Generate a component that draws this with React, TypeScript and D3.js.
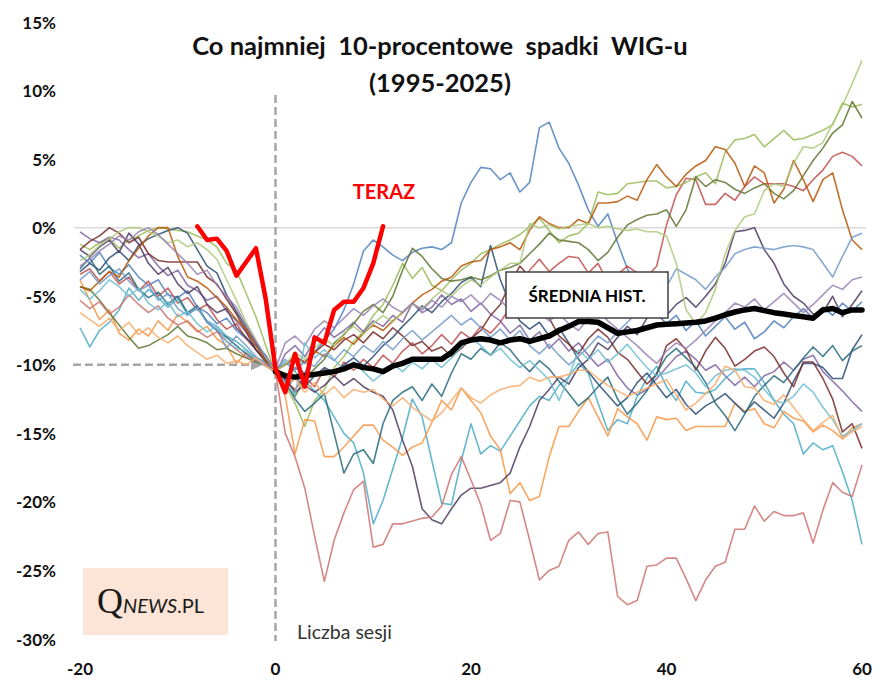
import * as d3 from "d3";
import { useEffect, useRef } from "react";

// sessions relative to the day the 10% drop was reached
const sessions = d3.range(-20, 61);
const xTicks = [-20, 0, 20, 40, 60];
const yTicks = [15, 10, 5, 0, -5, -10, -15, -20, -25, -30];

// historical episodes (% vs. previous peak), x = -20 .. 60
const blueSpike = [
  -2.0, -2.6, -1.8, -2.9, -3.4, -2.7, -3.6, -4.2, -3.8, -4.9, -5.1, -4.6, -5.8, -6.2, -7.0, -6.6, -7.5, -8.1, -8.6, -9.3,
  -10.5, -11.0, -10.2, -10.6, -9.1, -8.2, -7.4, -6.0, -4.1, -1.7, -0.9,
  -1.4, -2.0, -2.4, -1.8, -1.5, -1.4, -1.6, -1.1, 1.8, 3.3,
  4.4, 4.3, 3.5, 4.0, 2.6, 3.3, 7.3, 7.7, 5.8, 4.7,
  3.1, 1.3, 0.1, 1.0, -1.1, -3.0, -4.4, -5.6, -6.3, -7.0,
  -6.4, -7.5, -6.8, -7.9, -7.2, -6.5, -7.4, -6.9, -8.1, -7.6,
  -6.8, -7.3, -6.5, -5.9, -6.6, -5.8, -6.4, -5.5, -6.1, -5.4,
];
const redUp = [
  -3.4, -3.0, -3.9, -3.2, -4.1, -3.6, -4.6, -3.9, -5.0, -4.4, -5.5, -5.1, -6.0, -5.6, -6.7, -7.4, -7.0, -8.1, -8.9, -9.6,
  -10.4, -11.2, -11.8, -10.9, -11.6, -10.3, -10.9, -9.8, -10.4, -9.6, -10.2,
  -9.3, -9.9, -9.0, -8.4, -9.2, -8.6, -7.8, -8.5, -7.6, -8.1,
  -7.2, -7.7, -6.9, -5.8, -4.5, -3.1, -2.3, -3.2, -2.6, -2.1,
  -2.2, -3.3, -2.6, -4.0, -3.4, -2.8, -3.3, -3.6, -2.8, 0.2,
  2.4, 3.6, 3.5, 1.7, 1.7, 2.5, 2.0, 3.0, 3.7, 3.2,
  3.2, 3.2, 3.0, 2.7, 3.5, 4.2, 5.2, 5.5, 5.2, 4.5,
];
const greenMid = [
  -1.2, -1.6, -1.1, -0.8, -1.5, -0.9, -0.6, -0.2, 0.0, -0.1, -0.2, -0.3, -0.6, -0.9, -1.4, -2.6, -3.1, -4.8, -6.5, -8.6,
  -10.6, -11.5, -12.8, -14.5, -12.6, -11.8, -10.2, -9.4, -8.3, -7.6, -6.4,
  -5.6, -4.2, -2.6, -3.7, -2.9, -4.2, -4.6, -3.8, -3.1, -2.6,
  -1.9, -1.6, -1.2, -0.9, -0.5, 0.1, 0.7, -0.2, -1.1, -0.6,
  -0.4, 0.3, 2.6, 2.4, 2.5, 3.2, 3.3, 3.4, 3.4, 2.9,
  3.0, 3.3, 3.7, 4.0, 3.2, 5.5, 6.4, 6.5, 6.8, 5.9,
  6.5, 7.1, 6.4, 6.5, 6.8, 7.1, 7.5, 9.1, 8.8, 9.0,
];
const purple = [
  -0.3, -0.8, -1.1, -0.7, -0.9, -1.6, -2.2, -1.9, -2.8, -3.5, -3.1, -4.2, -4.6, -5.3, -5.0, -6.1, -6.8, -7.6, -8.4, -9.5,
  -10.7, -9.2, -8.6, -9.4, -8.2, -7.3, -8.0, -7.5, -6.9, -7.6, -6.8,
  -7.2, -6.4, -6.9, -5.5, -6.2, -5.8, -4.9, -5.6, -5.2, -6.1,
  -5.5, -6.3, -6.8, -7.7, -7.1, -8.2, -7.6, -8.8, -8.1, -9.0,
  -8.4, -9.3, -10.1, -9.6, -10.8, -11.7, -12.2, -11.8, -11.0, -10.2,
  -9.4, -9.0, -9.6, -10.4, -10.0, -10.8, -11.5, -10.9, -11.6, -10.8,
  -10.5, -9.8, -10.4, -9.6, -9.3, -10.5, -11.2, -11.9, -12.7, -13.4,
];
const cyanLow = [
  -7.3, -8.7, -7.5, -6.9, -6.0, -4.4, -5.3, -4.5, -5.1, -5.8, -5.2, -6.3, -5.9, -6.8, -7.2, -7.9, -8.3, -8.9, -9.5, -9.8,
  -10.4, -9.8, -10.5, -11.2, -11.9, -12.6, -13.8, -15.0, -15.7, -17.9, -21.6,
  -19.9, -17.6, -15.3, -12.5, -13.8, -17.0, -20.1, -20.2, -17.0, -14.3,
  -16.5, -15.9, -16.3, -15.2, -14.1, -13.0, -12.3, -12.6, -11.5, -10.9,
  -9.9, -10.6, -12.8, -14.8, -14.0, -14.3, -12.3, -11.0, -10.1, -11.6,
  -12.6, -11.2, -12.0, -12.1, -11.8, -11.0, -10.4, -10.3, -10.3, -11.3,
  -12.6, -13.6, -14.3, -16.5, -15.7, -16.2, -15.9, -17.8, -19.9, -23.1,
];
const orangeLow = [
  -3.8, -5.3, -6.7, -6.0, -7.7, -8.2, -7.4, -7.9, -6.8, -7.5, -6.3, -6.9, -7.6, -7.2, -8.1, -8.6, -9.9, -9.1, -9.6, -10.0,
  -10.5, -12.3, -16.5, -14.0, -14.1, -16.7, -16.7, -16.0, -15.2, -14.4, -14.4,
  -15.5, -16.0, -16.6, -16.0, -15.7, -14.2, -12.6, -13.3, -11.7, -12.6,
  -13.5, -15.2, -16.2, -19.4, -18.6, -19.9, -19.6, -16.7, -14.5, -14.5,
  -13.4, -12.4, -13.8, -15.2, -13.2, -13.8, -14.3, -15.5, -13.8, -14.0,
  -13.9, -14.8, -14.5, -14.5, -14.5, -14.5, -12.8, -13.4, -13.2, -14.3,
  -14.6, -13.4, -13.9, -14.1, -14.9, -14.4, -14.8, -15.4, -14.6, -14.3,
];
const darkBlue = [
  -3.2, -2.6, -3.1, -2.2, -1.7, -2.4, -1.3, -0.8, -0.5, -0.2, 0.0, -0.4, -1.6, -2.8, -3.3, -4.9, -6.1, -7.3, -8.4, -9.6,
  -10.3, -11.8, -10.9, -11.6, -10.8, -10.2, -10.6, -10.0, -9.5, -10.1, -9.4,
  -8.6, -8.0, -7.2, -6.5, -5.7, -6.2, -5.4, -4.8, -4.0, -3.6,
  -4.3, -1.3, -3.8, -5.6, -6.8, -7.4, -6.9, -7.9, -7.3, -8.4,
  -9.6, -10.5, -11.4, -12.2, -13.0, -12.4, -11.3, -10.6, -11.5, -12.4,
  -11.8, -12.9, -13.6, -13.0, -12.6, -12.1, -12.8, -13.5, -12.7, -13.3,
  -13.9, -12.8, -11.2, -9.9, -9.9, -10.2, -11.0, -11.0, -8.9, -7.8,
];
const darkRed = [
  -1.6, -1.0, -0.6, 0.0, -0.4, -1.1, -0.7, -1.9, -2.4, -2.5, -2.5, -2.5, -2.5, -3.6, -4.1, -5.2, -6.3, -7.6, -8.9, -9.7,
  -10.4, -10.0, -9.4, -9.8, -9.1, -8.5, -8.9, -8.2, -7.8, -8.4, -7.6,
  -8.1, -7.3, -7.9, -8.6, -8.3, -9.0, -8.7, -9.4, -8.8, -8.1,
  -7.5, -6.4, -5.6, -4.1, -2.8, -3.6, -5.0, -6.6, -7.9, -8.5,
  -9.2, -8.1, -7.4, -8.0, -9.1, -9.6, -10.5, -11.4, -10.7, -8.6,
  -8.1, -8.9, -10.4, -9.0, -8.0, -8.8, -10.1, -9.6, -9.0, -8.7,
  -9.4, -10.6, -11.6, -9.8, -9.8, -11.0, -12.5, -14.9, -14.3, -16.1,
];
const olive = [
  -4.3, -4.5, -5.3, -6.2, -7.1, -8.0, -8.8, -8.6, -8.2, -7.8, -7.2, -7.9, -8.1, -8.4, -8.9, -8.8, -9.2, -9.5, -9.8, -10.0,
  -10.6, -11.4, -12.3, -11.0, -10.3, -9.6, -8.4, -7.8, -7.0, -6.1, -5.6,
  -6.2, -5.0, -3.1, -1.5, -2.1, -3.0, -3.7, -3.9, -3.8, -3.6,
  -3.8, -3.5, -3.1, -2.9, -2.6, -1.9, -1.2, -0.4, -0.9, -1.0,
  -1.1, -1.6, -2.4, -1.8, -0.7, 0.2, 0.6, 0.9, 1.0, 1.3,
  0.1, 1.3, 3.7, 3.0, 3.5, 3.3, 2.8, 2.5, 2.9, 3.2,
  2.5, 2.1, 2.7, 3.8, 4.9, 5.8, 6.9, 7.5, 9.2, 8.0,
];
const darkPurple = [
  -1.6, -2.1, -1.4, -0.9, -1.8, -0.4, -1.2, -2.6, -3.4, -2.9, -4.1, -4.8, -4.3, -5.6, -6.2, -5.9, -7.3, -8.0, -8.9, -9.8,
  -10.5, -11.0, -12.0, -11.5, -12.0, -11.5, -10.8, -11.5, -11.0, -11.6, -12.0,
  -12.3, -13.3, -15.5, -17.4, -20.5, -21.3, -21.6, -20.5, -19.5, -19.0,
  -19.0, -18.8, -18.6, -17.9, -16.0, -14.5, -12.6, -11.8, -10.9, -11.4,
  -10.2, -9.6, -8.4, -8.9, -8.0, -7.2, -7.8, -6.6, -6.0, -6.4,
  -5.6, -5.1, -5.8, -5.0, -4.1, -2.6, -0.3, -0.2, 0.0, -1.6,
  -2.6, -4.1, -5.0, -5.5, -6.3, -6.2, -5.0, -6.5, -5.6, -4.6,
];
const teal = [
  -3.0, -2.2, -3.4, -2.8, -3.9, -3.3, -4.5, -5.1, -4.7, -5.6, -5.0, -6.2, -5.7, -6.9, -7.5, -8.0, -8.6, -9.2, -9.7, -10.1,
  -10.5, -11.2, -12.5, -13.4, -12.8, -12.1, -15.0, -17.9, -16.5, -16.2, -17.2,
  -14.3, -12.6, -12.0, -11.6, -12.6, -11.4, -12.3, -10.6, -9.2, -9.6,
  -8.8, -9.3, -8.4, -8.9, -9.8, -10.5, -9.7, -10.3, -11.2, -12.1,
  -13.0, -12.4, -11.6, -10.9, -12.5, -13.6, -12.8, -11.9, -10.6, -9.4,
  -8.8, -9.5, -10.2, -11.3, -12.8, -13.7, -14.8, -13.6, -12.3, -11.5,
  -10.8, -11.3, -10.4, -9.5, -8.7, -9.4, -8.6, -9.7, -9.0, -8.6,
];
const orangeUp = [
  -4.3, -4.6, -3.9, -3.2, -3.6, -2.4, -1.5, -0.6, 0.0, 0.0, -2.1, -3.6, -3.9, -4.4, -5.1, -5.8, -6.7, -7.4, -8.6, -9.8,
  -10.4, -10.0, -9.5, -9.9, -9.0, -9.4, -8.6, -8.0, -8.5, -7.7, -7.1,
  -7.5, -6.8, -6.2, -5.5, -4.9, -4.5, -3.9, -3.6, -2.8, -2.5,
  -2.4, -1.6, -1.4, -1.1, -1.6, -0.2, 0.8, 0.3, 0.0, 0.0,
  0.6, 0.3, 1.8, 1.8, 1.9, 2.3, 2.0, 3.5, 4.6, 3.7,
  3.0, 3.9, 4.5, 4.9, 5.9, 5.7, 4.7, 3.0, 4.5, 4.0,
  1.8, 2.8, 4.9, 3.5, 1.9, 3.5, 4.0, 1.3, -0.9, -1.6,
];
const lightBlue = [
  -3.8, -3.2, -4.1, -3.5, -3.0, -3.9, -4.6, -4.2, -5.3, -4.8, -5.9, -6.4, -5.8, -6.9, -7.4, -8.8, -7.9, -8.6, -9.4, -9.9,
  -10.3, -9.6, -10.4, -9.8, -10.1, -9.2, -9.7, -8.9, -9.4, -8.6, -9.1,
  -8.3, -8.9, -8.1, -7.5, -8.2, -7.6, -7.0, -6.4, -7.1, -6.6,
  -7.3, -8.0, -7.4, -8.2, -7.5, -8.6, -9.2, -8.5, -9.3, -10.0,
  -9.4, -8.7, -7.9, -8.4, -7.6, -6.9, -6.2, -5.1, -3.9, -4.3,
  -3.0, -3.4, -3.8, -4.5, -3.6, -2.9, -1.9, -1.6, -1.4, -1.5,
  -1.6, -1.4, -1.3, -1.4, -1.6, -2.6, -3.6, -2.1, -0.7, -0.4,
];
const redLow = [
  -5.3, -5.9, -5.4, -6.3, -5.8, -4.9, -5.6, -6.2, -5.7, -6.6, -7.1, -6.8, -7.5, -8.0, -7.6, -8.3, -8.9, -9.4, -9.7, -10.0,
  -10.5, -15.0, -16.7, -19.0, -22.5, -25.8, -22.8, -20.8, -19.1, -18.5, -23.3,
  -23.1, -21.6, -21.6, -21.4, -21.2, -21.1, -20.3, -18.0, -16.7, -18.4,
  -20.2, -22.8, -22.3, -19.9, -20.0, -22.8, -25.7, -25.0, -24.7, -22.8,
  -22.2, -23.1, -22.3, -22.2, -26.9, -27.5, -27.2, -24.7, -24.6, -24.1,
  -24.1, -25.6, -27.2, -25.7, -24.7, -24.4, -22.0, -22.0, -20.3, -21.4,
  -20.7, -21.0, -21.0, -20.8, -23.0, -20.6, -18.6, -19.3, -19.6, -17.3,
];
const lightGreen = [
  -2.4, -2.0, -1.3, -0.8, -0.3, 0.0, 0.0, -0.3, -0.6, -1.1, -0.9, -1.4, -1.1, -1.6, -2.3, -3.8, -5.3, -6.9, -8.2, -9.5,
  -10.4, -10.0, -9.1, -9.6, -8.8, -8.1, -8.6, -7.7, -7.2, -7.8, -7.0,
  -6.4, -6.9, -6.1, -5.6, -5.9, -5.2, -4.6, -5.0, -4.3, -3.8,
  -4.2, -3.6, -3.1, -2.6, -2.6, 0.3, 0.0, 0.2, -0.1, 0.1,
  0.2, 0.3, 0.0, 0.1, -0.1, -0.2, -0.1, -0.3, -0.3, -0.6,
  -2.6, -6.0, -7.0, -6.2, -4.5, -1.9, -0.2, 0.8, 1.0, 2.7,
  3.2, 3.0, 4.7, 5.9, 5.8, 6.2, 7.6, 8.9, 10.5, 12.2,
];
const lightPurple = [
  -2.8, -2.3, -1.7, -1.2, -0.6, -0.9, -0.3, 0.0, -0.5, -1.2, -1.9, -2.6, -3.4, -3.1, -4.2, -5.0, -5.8, -7.1, -8.3, -9.4,
  -10.3, -8.4, -7.9, -8.6, -7.4, -6.8, -7.3, -6.6, -5.9, -6.4, -5.7,
  -5.2, -5.8, -6.2, -5.5, -6.0, -5.3, -5.8, -5.0, -5.4, -4.9,
  -5.6, -4.8, -5.3, -6.0, -6.4, -5.7, -6.2, -6.8, -6.3, -7.0,
  -7.5, -6.6, -6.1, -6.8, -7.4, -8.0, -8.6, -9.3, -9.9, -9.0,
  -8.4, -8.8, -8.2, -7.5, -6.8, -6.2, -5.5, -5.8, -5.2, -6.0,
  -5.4, -4.8, -5.5, -6.2, -5.6, -4.9, -4.2, -4.5, -3.8, -3.6,
];
const lightCyan = [
  -4.5, -5.2, -4.6, -3.8, -4.3, -5.0, -4.4, -5.5, -6.0, -5.4, -6.5, -6.1, -7.0, -7.6, -7.2, -8.3, -8.8, -9.0, -9.6, -10.1,
  -10.5, -11.3, -12.2, -8.4, -9.5, -8.9, -9.6, -10.4, -9.8, -10.5, -11.2,
  -10.6, -9.9, -10.5, -9.8, -10.3, -9.6, -10.2, -9.5, -8.7, -8.0,
  -8.6, -9.3, -8.8, -9.6, -10.2, -9.7, -10.4, -11.1, -12.6, -10.9,
  -8.9, -9.6, -8.9, -9.8, -9.2, -8.5, -9.4, -10.2, -10.8, -10.6,
  -10.3, -10.0, -10.6, -11.6, -10.8, -10.4, -10.3, -10.4, -10.9, -11.8,
  -12.6, -12.8, -12.3, -11.4, -12.0, -13.1, -14.0, -15.2, -14.8, -14.3,
];
const lightOrange = [
  -6.2, -6.7, -7.2, -6.6, -7.5, -6.9, -7.8, -7.3, -8.0, -8.4, -7.9, -8.6, -9.1, -9.6, -9.3, -9.9, -9.7, -10.0, -9.5, -10.1,
  -10.5, -11.5, -11.0, -12.0, -11.3, -12.2, -11.6, -12.4, -11.8, -12.0, -11.8,
  -12.5, -13.0, -12.4, -13.1, -13.6, -14.1, -13.5, -12.6, -11.7, -12.4,
  -12.8, -12.2, -11.8, -11.6, -11.5, -10.9, -11.2, -10.9, -10.9, -10.7,
  -10.4, -10.4, -11.0, -11.5, -11.9, -12.3, -12.0, -11.7, -11.4, -11.1,
  -12.2, -13.3, -12.8, -12.1, -11.4, -10.1, -10.4, -11.6, -11.7, -12.6,
  -12.9, -12.2, -13.1, -14.0, -14.8, -14.2, -13.7, -15.4, -14.9, -14.5,
];

// current drop ("TERAZ"), sessions -8 .. 11
const terazSessions = d3.range(-8, 12);
const teraz = [
  0.1, -0.9, -0.8, -1.7, -3.5, -2.5, -1.5, -5.2,
  -10.3, -12.0, -9.2, -11.6, -8.0, -8.4, -6.0, -5.4, -5.4, -4.4, -2.6, 0.1,
];

// historical average, sessions 0 .. 60
const meanSessions = d3.range(0, 61);
const meanHist = [
  -10.5, -10.8, -10.9, -10.8, -10.7, -10.6, -10.5, -10.3, -10.0, -10.2, -10.3,
  -10.5, -10.1, -9.9, -9.6, -9.6, -9.6, -9.6, -9.1, -8.4, -8.2,
  -8.1, -8.2, -8.4, -8.2, -8.1, -8.3, -8.1, -7.9, -7.5, -7.2,
  -6.85, -6.85, -6.9, -7.3, -7.7, -7.6, -7.5, -7.3, -7.1, -7.05,
  -7.0, -6.95, -6.9, -6.8, -6.6, -6.35, -6.15, -6.0, -5.9, -6.05,
  -6.2, -6.3, -6.4, -6.5, -6.6, -6.0, -5.9, -6.2, -6.0, -6.0,
];

const history = [
  { color: "#4F81BD", values: blueSpike },
  { color: "#C0504D", values: redUp },
  { color: "#9BBB59", values: greenMid },
  { color: "#8064A2", values: purple },
  { color: "#4BACC6", values: cyanLow },
  { color: "#F79646", values: orangeLow },
  { color: "#2C4D75", values: darkBlue },
  { color: "#772C2A", values: darkRed },
  { color: "#5F7530", values: olive },
  { color: "#4D3B62", values: darkPurple },
  { color: "#276A7C", values: teal },
  { color: "#B65708", values: orangeUp },
  { color: "#729ACA", values: lightBlue },
  { color: "#CD7371", values: redLow },
  { color: "#AFC97A", values: lightGreen },
  { color: "#9983B5", values: lightPurple },
  { color: "#6FBDD1", values: lightCyan },
  { color: "#F9AB6B", values: lightOrange },
];

const FONT = "Lato, 'Open Sans', sans-serif";

export default function App() {
  const ref = useRef<SVGSVGElement | null>(null);

  useEffect(() => {
    if (!ref.current) return;
    const svg = d3.select(ref.current);
    svg.selectAll("*").remove();

    const x = d3.scaleLinear().domain([-20, 60]).range([80, 862]);
    const y = d3.scaleLinear().domain([-30, 15]).range([639, 22]);

    svg.append("rect").attr("width", 877).attr("height", 681).attr("fill", "#fff");

    // 0% gridline
    svg
      .append("line")
      .attr("x1", 75)
      .attr("x2", 866)
      .attr("y1", y(0))
      .attr("y2", y(0))
      .attr("stroke", "#d9d9d9")
      .attr("stroke-width", 1.5);

    // y tick labels
    svg
      .append("g")
      .selectAll("text")
      .data(yTicks)
      .join("text")
      .attr("x", 56)
      .attr("y", (d) => y(d))
      .attr("text-anchor", "end")
      .attr("dominant-baseline", "central")
      .attr("font-family", FONT)
      .attr("font-weight", "bold")
      .attr("font-size", 17)
      .attr("fill", "#111")
      .text((d) => `${d}%`);

    // x tick labels
    svg
      .append("g")
      .selectAll("text")
      .data(xTicks)
      .join("text")
      .attr("x", (d) => x(d))
      .attr("y", 668)
      .attr("text-anchor", "middle")
      .attr("dominant-baseline", "central")
      .attr("font-family", FONT)
      .attr("font-weight", "bold")
      .attr("font-size", 17)
      .attr("fill", "#111")
      .text((d) => `${d}`);

    // dashed guides
    svg
      .append("line")
      .attr("x1", x(0))
      .attr("x2", x(0))
      .attr("y1", 95)
      .attr("y2", 641)
      .attr("stroke", "#a6a6a6")
      .attr("stroke-width", 2.5)
      .attr("stroke-dasharray", "8,4");
    svg
      .append("line")
      .attr("x1", 73)
      .attr("x2", 252)
      .attr("y1", y(-10))
      .attr("y2", y(-10))
      .attr("stroke", "#a6a6a6")
      .attr("stroke-width", 2.5)
      .attr("stroke-dasharray", "8,4");
    svg
      .append("path")
      .attr("d", `M251,${y(-10) - 5.5}L263,${y(-10)}L251,${y(-10) + 5.5}Z`)
      .attr("fill", "#a6a6a6");

    // historical episodes
    const line = d3
      .line<number>()
      .x((_, i) => x(sessions[i]))
      .y((d) => y(d));

    svg
      .append("g")
      .selectAll("path")
      .data(history)
      .join("path")
      .attr("d", (d) => line(d.values))
      .attr("fill", "none")
      .attr("stroke", (d) => d.color)
      .attr("stroke-width", 1.6)
      .attr("stroke-opacity", 0.85)
      .attr("stroke-linejoin", "round");

    // historical average
    const meanLine = d3
      .line<number>()
      .x((_, i) => x(meanSessions[i]))
      .y((d) => y(d));
    svg
      .append("path")
      .attr("d", meanLine(meanHist))
      .attr("fill", "none")
      .attr("stroke", "#000")
      .attr("stroke-width", 5.5)
      .attr("stroke-linejoin", "round")
      .attr("stroke-linecap", "round");

    // current drop
    const terazLine = d3
      .line<number>()
      .x((_, i) => x(terazSessions[i]))
      .y((d) => y(d));
    svg
      .append("path")
      .attr("d", terazLine(teraz))
      .attr("fill", "none")
      .attr("stroke", "#ff0000")
      .attr("stroke-width", 4.5)
      .attr("stroke-linejoin", "round")
      .attr("stroke-linecap", "round");

    // title
    const title = svg
      .append("text")
      .attr("text-anchor", "middle")
      .attr("font-family", FONT)
      .attr("font-weight", "bold")
      .attr("font-size", 25.5)
      .attr("fill", "#111")
      .style("white-space", "pre");
    title.append("tspan").attr("x", 440).attr("y", 55).text("Co najmniej  10-procentowe  spadki  WIG-u");
    title.append("tspan").attr("x", 440).attr("y", 92).text("(1995-2025)");

    svg
      .append("text")
      .attr("x", 384)
      .attr("y", 191)
      .attr("text-anchor", "middle")
      .attr("dominant-baseline", "central")
      .attr("font-family", FONT)
      .attr("font-weight", "bold")
      .attr("font-size", 20)
      .attr("fill", "#ff0000")
      .text("TERAZ");

    // average label
    svg
      .append("rect")
      .attr("x", 506)
      .attr("y", 272)
      .attr("width", 162)
      .attr("height", 46)
      .attr("fill", "#fff")
      .attr("stroke", "#404040")
      .attr("stroke-width", 1.5);
    svg
      .append("text")
      .attr("x", 587)
      .attr("y", 295)
      .attr("text-anchor", "middle")
      .attr("dominant-baseline", "central")
      .attr("font-family", FONT)
      .attr("font-weight", "bold")
      .attr("font-size", 17)
      .attr("fill", "#000")
      .text("ŚREDNIA HIST.");

    // logo
    svg
      .append("rect")
      .attr("x", 83)
      .attr("y", 568)
      .attr("width", 145)
      .attr("height", 67)
      .attr("fill", "#fce4d6");
    const logo = svg
      .append("text")
      .attr("x", 97)
      .attr("y", 613)
      .attr("fill", "#1a1a1a");
    logo
      .append("tspan")
      .attr("font-family", "'Liberation Serif', serif")
      .attr("font-size", 36)
      .text("Q");
    logo
      .append("tspan")
      .attr("font-family", FONT)
      .attr("font-style", "italic")
      .attr("font-size", 20)
      .text("NEWS");
    logo
      .append("tspan")
      .attr("font-family", FONT)
      .attr("font-size", 20)
      .text(".PL");

    svg
      .append("text")
      .attr("x", 297)
      .attr("y", 631)
      .attr("dominant-baseline", "central")
      .attr("font-family", FONT)
      .attr("font-size", 19.5)
      .attr("fill", "#333")
      .text("Liczba sesji");
  }, []);

  return (
    <svg
      ref={ref}
      width={877}
      height={681}
      viewBox="0 0 877 681"
      style={{ position: "absolute", left: 0, top: 0 }}
    />
  );
}
